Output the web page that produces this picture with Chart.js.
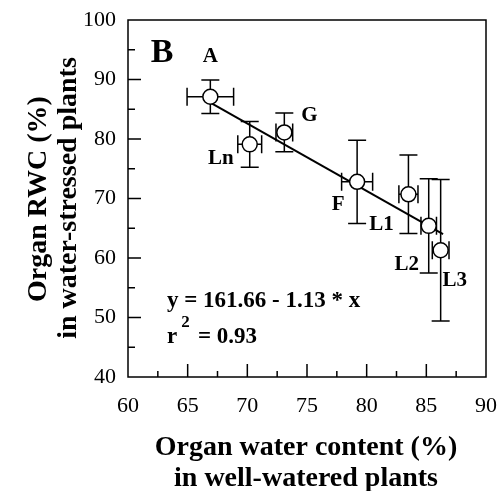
<!DOCTYPE html>
<html>
<head>
<meta charset="utf-8">
<script src="https://cdn.jsdelivr.net/npm/chart.js"></script>
<style>
  html, body { margin: 0; padding: 0; background: #fff; }
  #chart { display: block; }
</style>
</head>
<body>
<canvas id="chart" width="498" height="491"></canvas>
<script>
// organ labels and values
const organs = ['A', 'Ln', 'G', 'F', 'L1', 'L2', 'L3'];
const waterContent = [66.9, 70.2, 73.1, 79.2, 83.5, 85.2, 86.2];   // x, well-watered
const waterContentErr = [1.95, 1.0, 0.7, 1.3, 0.8, 0.65, 0.7];
const rwc = [87.1, 79.1, 81.1, 72.8, 70.7, 65.4, 61.3];            // y, water-stressed
const rwcErr = [2.8, 3.85, 3.25, 7.0, 6.6, 7.9, 11.9];

// regression line end points
const fitX = [66.9, 86.4];
const fitY = [86.1, 64.0];

const xTicks = [60, 65, 70, 75, 80, 85, 90];
const yTicks = [40, 50, 60, 70, 80, 90, 100];

// label offsets (px) from the point centre
const labelOffsets = [[0, -40], [-29, 14], [25, -17], [-19, 23], [-27, 30], [-22, 39], [14, 30]];

const serif = '"Liberation Serif", "Times New Roman", serif';

const frameAndErrors = {
    id: 'frameAndErrors',
    beforeDatasetsDraw(chart) {
        const ctx = chart.ctx;
        const xs = chart.scales.x, ys = chart.scales.y;
        ctx.save();
        ctx.strokeStyle = '#000';
        ctx.lineWidth = 1.5;
        // error bars
        const cap = 9;
        for (let i = 0; i < organs.length; i++) {
            const px = xs.getPixelForValue(waterContent[i]);
            const py = ys.getPixelForValue(rwc[i]);
            const y1 = ys.getPixelForValue(rwc[i] + rwcErr[i]);
            const y2 = ys.getPixelForValue(rwc[i] - rwcErr[i]);
            const x1 = xs.getPixelForValue(waterContent[i] - waterContentErr[i]);
            const x2 = xs.getPixelForValue(waterContent[i] + waterContentErr[i]);
            ctx.beginPath();
            ctx.moveTo(px, y1); ctx.lineTo(px, y2);
            ctx.moveTo(px - cap, y1); ctx.lineTo(px + cap, y1);
            ctx.moveTo(px - cap, y2); ctx.lineTo(px + cap, y2);
            ctx.moveTo(x1, py); ctx.lineTo(x2, py);
            ctx.moveTo(x1, py - cap); ctx.lineTo(x1, py + cap);
            ctx.moveTo(x2, py - cap); ctx.lineTo(x2, py + cap);
            ctx.stroke();
        }
        ctx.restore();
    },
    afterDatasetsDraw(chart) {
        const ctx = chart.ctx;
        const a = chart.chartArea;
        const xs = chart.scales.x, ys = chart.scales.y;
        ctx.save();
        ctx.strokeStyle = '#000';
        ctx.lineWidth = 1.5;
        ctx.strokeRect(a.left, a.top, a.right - a.left, a.bottom - a.top);
        // inward ticks, major + minor
        ctx.beginPath();
        for (let v = 62.5; v < 90; v += 2.5) {
            const px = xs.getPixelForValue(v);
            const len = (v % 5 === 0) ? 13 : 6;
            ctx.moveTo(px, a.bottom); ctx.lineTo(px, a.bottom - len);
        }
        for (let v = 45; v < 100; v += 5) {
            const py = ys.getPixelForValue(v);
            const len = (v % 10 === 0) ? 13 : 7;
            ctx.moveTo(a.left, py); ctx.lineTo(a.left + len, py);
        }
        ctx.stroke();

        // point labels
        ctx.fillStyle = '#000';
        ctx.textAlign = 'center';
        ctx.textBaseline = 'middle';
        ctx.font = 'bold 21px ' + serif;
        organs.forEach((name, i) => {
            const px = xs.getPixelForValue(waterContent[i]);
            const py = ys.getPixelForValue(rwc[i]);
            ctx.fillText(name, px + labelOffsets[i][0], py + labelOffsets[i][1]);
        });

        // panel letter
        ctx.font = 'bold 34px ' + serif;
        ctx.fillText('B', 162, 53);

        // equation
        ctx.textAlign = 'left';
        ctx.textBaseline = 'alphabetic';
        ctx.font = 'bold 23px ' + serif;
        ctx.fillText('y = 161.66 - 1.13 * x', 167, 307);
        ctx.fillText('r', 167, 343);
        const rw = ctx.measureText('r').width;
        ctx.font = 'bold 17px ' + serif;
        ctx.fillText('2', 167 + rw + 4, 327);
        ctx.font = 'bold 23px ' + serif;
        ctx.fillText('= 0.93', 198, 343);

        // axis titles
        ctx.textAlign = 'center';
        ctx.font = 'bold 28px ' + serif;
        ctx.fillText('Organ water content (%)', 306, 455);
        ctx.fillText('in well-watered plants', 306, 486);
        ctx.textBaseline = 'middle';
        ctx.save();
        ctx.translate(39, 199);
        ctx.rotate(-Math.PI / 2);
        ctx.fillText('Organ RWC (%)', 0, 0);
        ctx.restore();
        ctx.save();
        ctx.translate(69, 198);
        ctx.rotate(-Math.PI / 2);
        ctx.fillText('in water-stressed plants', 0, 0);
        ctx.restore();
        ctx.restore();
    }
};

new Chart(document.getElementById('chart'), {
    type: 'scatter',
    data: {
        datasets: [
            {
                label: 'organs',
                data: waterContent.map((x, i) => ({ x: x, y: rwc[i] })),
                pointRadius: 7.5,
                pointHoverRadius: 7.5,
                pointBackgroundColor: '#fff',
                pointBorderColor: '#000',
                pointBorderWidth: 1.5,
                order: 1
            },
            {
                type: 'line',
                label: 'fit',
                data: fitX.map((x, i) => ({ x: x, y: fitY[i] })),
                borderColor: '#000',
                borderWidth: 2,
                pointRadius: 0,
                fill: false,
                order: 2
            }
        ]
    },
    options: {
        responsive: false,
        animation: false,
        events: [],
        layout: { padding: { top: 20, right: 12, left: 0, bottom: 0 } },
        plugins: { legend: { display: false }, tooltip: { enabled: false } },
        scales: {
            x: {
                type: 'linear',
                min: 60, max: 90,
                afterFit(scale) {
                    scale.height = 114;
                    scale.paddingLeft = 0;
                    scale.paddingRight = 0;
                },
                afterBuildTicks(scale) { scale.ticks = xTicks.map(v => ({ value: v })); },
                grid: { display: false, drawTicks: false },
                border: { display: false },
                ticks: { color: '#000', padding: 16, font: { family: serif, size: 22 } }
            },
            y: {
                type: 'linear',
                min: 40, max: 100,
                afterFit(scale) {
                    scale.width = 128;
                    scale.paddingTop = 0;
                    scale.paddingBottom = 0;
                },
                afterBuildTicks(scale) { scale.ticks = yTicks.map(v => ({ value: v })); },
                grid: { display: false, drawTicks: false },
                border: { display: false },
                ticks: { color: '#000', padding: 12, font: { family: serif, size: 22 } }
            }
        }
    },
    plugins: [frameAndErrors]
});
</script>
</body>
</html>
